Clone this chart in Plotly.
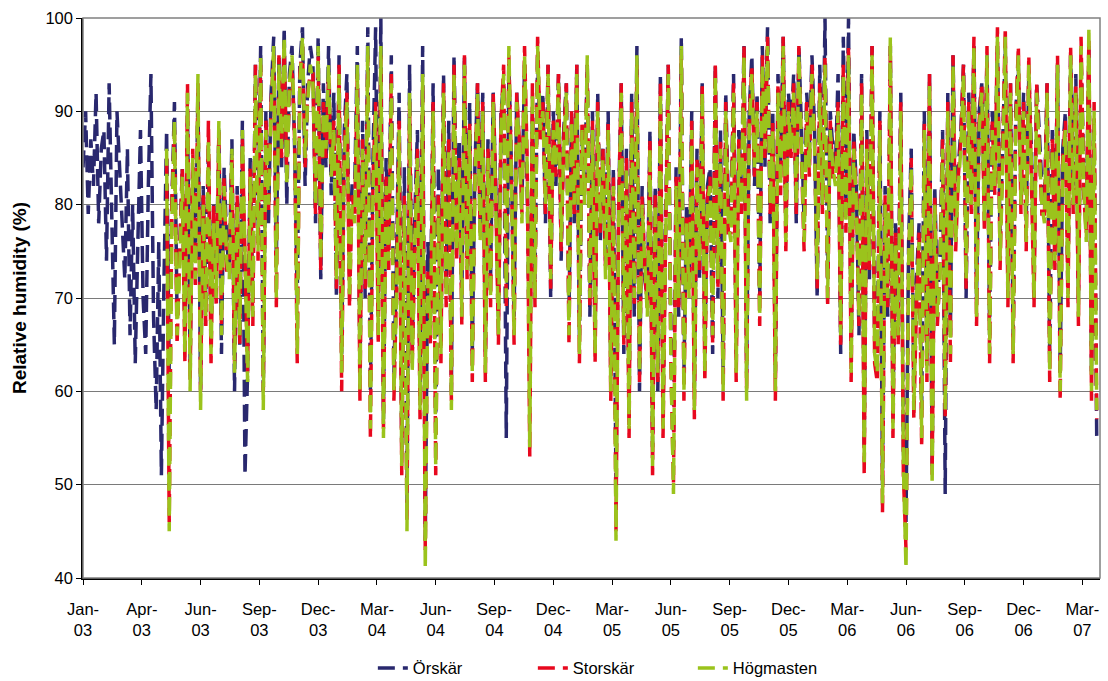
import plotly.graph_objects as go
import pandas as pd

# 4-day sampling from 2003-01-01
start = "2003-01-01"
step_days = 4

orskar = [
    84, 90, 79, 87, 82, 92, 78, 86,
    88, 74, 93, 81, 65, 90, 84, 77,
    72, 86, 66, 80, 63, 76, 88, 70,
    64, 82, 94, 68, 58, 76, 51, 72,
    88, 62, 80, 91, 68, 75, 84, 66,
    90, 63, 84, 74, 92, 60, 82, 70,
    86, 66, 80, 72, 88, 64, 84, 76,
    73, 87, 60, 82, 65, 89, 51, 62,
    85, 70, 95, 77, 97, 60, 90, 78,
    92, 98, 74, 96, 84, 99, 80, 94,
    97, 86, 70, 95, 99, 82, 93, 97,
    95, 78, 98, 72, 93, 84, 97, 81,
    92, 70, 96, 64, 88, 94, 72, 82,
    82, 97, 62, 89, 70, 99, 60, 85,
    99, 68, 100, 57, 85, 76, 96, 62,
    74, 92, 54, 84, 48, 95, 64, 79,
    88, 60, 97, 44, 76, 68, 93, 56,
    84, 66, 94, 72, 89, 60, 96, 78,
    87, 70, 96, 75, 91, 64, 84, 93,
    78, 92, 64, 87, 72, 92, 82, 68,
    90, 93, 55, 95, 84, 68, 92, 85,
    80, 95, 82, 62, 90, 72, 96, 87,
    92, 78, 95, 70, 90, 82, 94, 74,
    88, 93, 68, 90, 78, 95, 66, 87,
    82, 95, 68, 90, 66, 92, 76, 86,
    74, 90, 62, 84, 50, 80, 93, 64,
    86, 58, 92, 68, 97, 60, 82, 72,
    70, 88, 54, 82, 60, 94, 58, 78,
    95, 66, 54, 84, 68, 98, 62, 80,
    72, 90, 60, 86, 72, 93, 64, 82,
    84, 64, 95, 70, 88, 62, 92, 80,
    78, 94, 64, 88, 82, 97, 62, 90,
    96, 82, 92, 70, 97, 84, 99, 78,
    90, 62, 94, 84, 98, 78, 92, 88,
    94, 78, 97, 88, 78, 92, 86, 96,
    88, 70, 95, 80, 100, 72, 90, 86,
    84, 94, 64, 98, 80, 100, 64, 88,
    82, 66, 94, 54, 88, 72, 97, 66,
    64, 90, 50, 82, 68, 97, 58, 78,
    68, 92, 54, 46, 76, 86, 60, 72,
    78, 58, 90, 64, 94, 52, 82, 70,
    74, 88, 49, 92, 66, 96, 78, 84,
    88, 95, 70, 92, 82, 97, 70, 90,
    93, 80, 96, 66, 90, 84, 97, 76,
    86, 97, 72, 93, 66, 90, 95, 82,
    92, 78, 94, 86, 72, 93, 88, 82,
    80, 93, 64, 88, 76, 95, 62, 86,
    90, 72, 96, 82, 94, 70, 96, 84,
    78, 97, 62, 88, 55,
]

# Storskär and Högmasten start in May 2003 (sample index 32)
offset_other = 32

storskar = [
    85, 46, 80, 88, 65, 74, 84, 63,
    93, 61, 86, 71, 93, 60, 81, 67,
    89, 63, 80, 69, 88, 67, 83, 73,
    73, 85, 63, 81, 65, 87, 76, 62,
    84, 67, 95, 74, 95, 60, 89, 79,
    91, 96, 69, 96, 85, 97, 83, 92,
    95, 87, 63, 94, 97, 84, 92, 94,
    94, 79, 96, 73, 91, 85, 94, 84,
    89, 71, 95, 60, 86, 92, 69, 81,
    79, 94, 59, 87, 71, 96, 55, 83,
    91, 65, 96, 56, 83, 73, 94, 59,
    71, 89, 51, 81, 46, 91, 63, 75,
    86, 57, 93, 43, 73, 65, 91, 51,
    81, 63, 93, 69, 87, 59, 95, 74,
    85, 67, 96, 72, 89, 61, 83, 93,
    77, 91, 61, 86, 69, 92, 81, 65,
    89, 95, 69, 96, 83, 65, 92, 87,
    79, 97, 85, 53, 93, 69, 98, 87,
    91, 79, 95, 71, 89, 83, 94, 75,
    87, 93, 65, 90, 79, 95, 63, 89,
    81, 95, 69, 89, 63, 91, 77, 86,
    73, 89, 59, 83, 45, 79, 93, 65,
    85, 55, 91, 69, 95, 61, 81, 73,
    69, 87, 51, 81, 61, 93, 55, 77,
    95, 63, 50, 83, 69, 96, 59, 79,
    71, 89, 57, 85, 73, 93, 61, 81,
    83, 65, 95, 71, 87, 59, 91, 77,
    77, 93, 61, 87, 79, 97, 60, 89,
    95, 83, 91, 67, 96, 85, 98, 79,
    89, 59, 93, 81, 98, 75, 91, 85,
    93, 79, 97, 85, 75, 91, 83, 95,
    87, 71, 93, 79, 96, 69, 89, 83,
    83, 91, 65, 95, 77, 97, 61, 87,
    81, 67, 93, 51, 87, 73, 97, 63,
    61, 89, 47, 81, 69, 97, 55, 77,
    65, 91, 51, 43, 73, 85, 57, 69,
    77, 54, 89, 61, 94, 51, 81, 67,
    73, 87, 57, 91, 63, 96, 75, 83,
    87, 95, 71, 91, 79, 98, 67, 89,
    93, 77, 97, 63, 89, 81, 99, 73,
    85, 99, 69, 93, 63, 89, 97, 79,
    91, 75, 96, 83, 69, 93, 85, 79,
    79, 93, 61, 87, 73, 96, 59, 85,
    89, 69, 97, 79, 93, 67, 98, 81,
    77, 98, 59, 91, 57,
]

hogmasten = [
    86, 45, 78, 89, 66, 73, 83, 64,
    92, 60, 85, 72, 94, 58, 80, 68,
    87, 64, 78, 70, 89, 66, 82, 74,
    72, 86, 62, 80, 66, 88, 75, 61,
    83, 68, 94, 75, 96, 58, 88, 80,
    90, 97, 70, 95, 86, 98, 82, 93,
    96, 88, 64, 93, 98, 85, 91, 95,
    93, 80, 97, 74, 90, 86, 95, 83,
    88, 72, 94, 62, 85, 91, 70, 80,
    78, 95, 60, 86, 72, 97, 56, 82,
    90, 66, 97, 55, 82, 74, 93, 60,
    70, 88, 52, 80, 45, 92, 62, 76,
    85, 58, 94, 41, 72, 66, 90, 52,
    80, 64, 92, 70, 86, 58, 94, 75,
    84, 68, 95, 73, 88, 62, 82, 92,
    76, 90, 62, 85, 70, 91, 80, 66,
    88, 94, 70, 97, 82, 66, 91, 86,
    78, 96, 84, 54, 92, 70, 97, 88,
    90, 80, 94, 72, 88, 84, 93, 76,
    86, 92, 66, 89, 80, 94, 64, 88,
    80, 96, 70, 88, 64, 90, 78, 85,
    72, 88, 60, 82, 44, 78, 92, 66,
    84, 56, 90, 70, 96, 62, 80, 74,
    68, 86, 52, 80, 62, 92, 56, 76,
    94, 64, 49, 82, 70, 97, 60, 78,
    70, 88, 58, 84, 74, 92, 62, 80,
    82, 66, 94, 72, 86, 60, 90, 78,
    76, 92, 62, 86, 80, 96, 59, 88,
    94, 84, 90, 68, 95, 86, 97, 80,
    88, 60, 92, 82, 97, 76, 90, 86,
    92, 80, 96, 86, 76, 90, 84, 94,
    86, 72, 92, 80, 95, 70, 88, 84,
    82, 90, 66, 94, 78, 96, 62, 86,
    80, 68, 92, 52, 86, 74, 96, 64,
    62, 88, 48, 80, 70, 98, 56, 76,
    66, 90, 52, 41, 74, 84, 58, 70,
    76, 55, 88, 62, 93, 50, 80, 68,
    72, 86, 58, 90, 64, 95, 76, 82,
    86, 94, 72, 90, 80, 97, 68, 88,
    92, 78, 96, 64, 88, 82, 98, 74,
    84, 98, 70, 92, 64, 88, 96, 80,
    90, 76, 95, 84, 70, 92, 86, 80,
    78, 92, 62, 86, 74, 95, 60, 84,
    88, 70, 96, 80, 92, 68, 97, 82,
    76, 99, 60, 90, 58,
]

tick_labels = ["Jan-<br>03", "Apr-<br>03", "Jun-<br>03", "Sep-<br>03", "Dec-<br>03",
               "Mar-<br>04", "Jun-<br>04", "Sep-<br>04", "Dec-<br>04",
               "Mar-<br>05", "Jun-<br>05", "Sep-<br>05", "Dec-<br>05",
               "Mar-<br>06", "Jun-<br>06", "Sep-<br>06", "Dec-<br>06", "Mar-<br>07"]

dates_all = pd.date_range(start, periods=len(orskar), freq=f"{step_days}D")
dates_other = dates_all[offset_other:offset_other + len(hogmasten)]
tick_vals = pd.date_range(start, periods=len(tick_labels), freq="90D")

FONT = "Liberation Sans, Arial, sans-serif"
dash = "17px,8px"
LW = 3.5

fig = go.Figure()
fig.add_trace(go.Scatter(x=dates_all, y=orskar, mode="lines", name="Örskär",
                         line=dict(color="#29286E", width=LW, dash=dash)))
fig.add_trace(go.Scatter(x=dates_other, y=storskar, mode="lines", name="Storskär",
                         line=dict(color="#E8081E", width=LW, dash=dash)))
fig.add_trace(go.Scatter(x=dates_other, y=hogmasten, mode="lines", name="Högmasten",
                         line=dict(color="#9BC31C", width=LW, dash=dash)))

fig.update_layout(
    width=1108, height=681,
    margin=dict(l=83, r=8, t=18, b=103, autoexpand=False),
    paper_bgcolor="white", plot_bgcolor="white",
    font=dict(family=FONT, size=16, color="black"),
    showlegend=True,
    legend=dict(orientation="h", x=0.285, xanchor="left", y=-0.161, yanchor="middle",
                font=dict(size=16.5), entrywidth=115, entrywidthmode="pixels"),
    shapes=[dict(type="rect", xref="paper", yref="paper", x0=0, y0=0, x1=1, y1=1,
                 line=dict(color="#808080", width=1.5), layer="above")],
)
fig.update_xaxes(
    range=[pd.Timestamp(start), pd.Timestamp(start) + pd.Timedelta(days=1557)],
    tickvals=tick_vals, ticktext=tick_labels, tickangle=0,
    ticks="outside", ticklen=5, tickcolor="black", ticklabelstandoff=10,
    showline=True, linecolor="black", linewidth=1.5,
    showgrid=False, zeroline=False, tickfont=dict(size=16.5),
)
fig.update_yaxes(
    range=[40, 100], dtick=10, tick0=40,
    ticks="outside", ticklen=5, tickcolor="black",
    showline=True, linecolor="black", linewidth=1.5,
    showgrid=True, gridcolor="#7a7a7a", gridwidth=1, zeroline=False,
    title=dict(text="<b>Relative humidity (%)</b>", font=dict(size=19), standoff=14),
    tickfont=dict(size=16.5),
)

fig.write_html("out.html")
